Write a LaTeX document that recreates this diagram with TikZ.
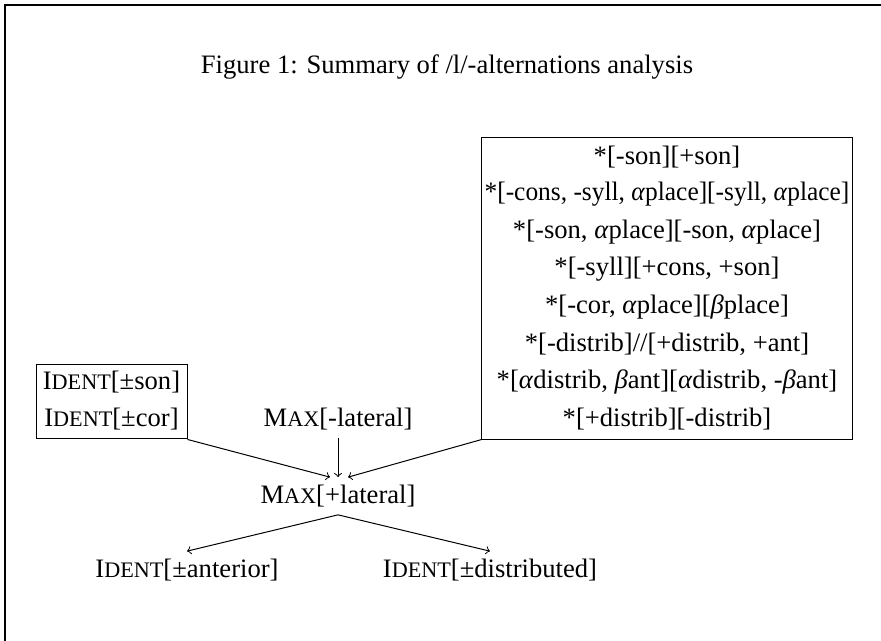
\documentclass[tikz,border=0pt]{standalone}
\usepackage{fontspec}
\setmainfont{Liberation Serif}
\newcommand{\smc}[1]{{\fontsize{10}{11}\selectfont #1}}
\newcommand{\ga}{\textit{α}}
\newcommand{\gb}{\textit{β}}
\begin{document}
\begin{tikzpicture}[x=0.451pt,y=-0.451pt,
  font=\fontsize{12}{14}\selectfont,
  boxed/.style={draw, line width=0.45pt, inner sep=0pt},
  arr/.style={->, line width=0.45pt}]
\path[use as bounding box] (0,0) rectangle (881,641);
\draw[line width=0.75pt] (5,641) -- (5,5) -- (881,5);
\node (title) at (447,67) {Figure 1: Summary of /l/-alternations analysis};
% faithfulness box
\node[boxed, minimum width=68.1pt, minimum height=33.8pt] (faith) at (111.5,401.5) {};
\node (f1) at (111.5,382) {I\smc{DENT}[±son]};
\node (f2) at (111.5,419) {I\smc{DENT}[±cor]};
% markedness box
\node[boxed, minimum width=166.9pt, minimum height=135.8pt] (mark) at (667,288.5) {};
\node (m1) at (667,156.8) {*[-son][+son]};
\node (m2) at (667,194.3) {\scalebox{0.955}[1]{*[-cons, -syll, \ga place][-syll, \ga place]}};
\node (m3) at (667,231.8) {*[-son, \ga place][-son, \ga place]};
\node (m4) at (667,269.3) {*[-syll][+cons, +son]};
\node (m5) at (667,306.8) {*[-cor, \ga place][\gb place]};
\node (m6) at (667,344.3) {*[-distrib]//[+distrib, +ant]};
\node (m7) at (667,381.8) {*[\ga distrib, \gb ant][\ga distrib, -\gb ant]};
\node (m8) at (667,419.3) {*[+distrib][-distrib]};
% constraints
\node (ml) at (338,419) {M\smc{AX}[-lateral]};
\node (mp) at (338,496) {M\smc{AX}[+lateral]};
\node (ia) at (187,570) {I\smc{DENT}[±anterior]};
\node (id) at (490,570) {I\smc{DENT}[±distributed]};
% connectors
\draw[arr] (faith.south east) -- ([xshift=-3.6pt]mp.north);
\draw[arr] (ml.south) -- (mp.north);
\draw[arr] (mark.south west) -- ([xshift=4.5pt]mp.north);
\draw[arr] (mp.south) -- (ia.north);
\draw[arr] (mp.south) -- (id.north);
\end{tikzpicture}
\end{document}
